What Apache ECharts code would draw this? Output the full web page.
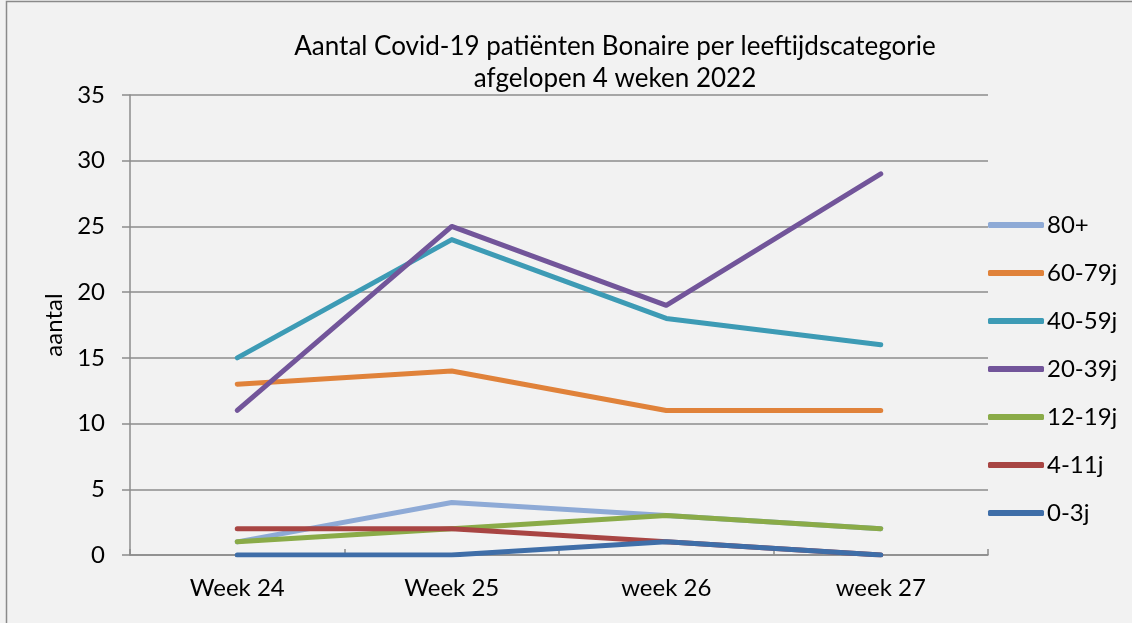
<!DOCTYPE html>
<html>
<head>
<meta charset="utf-8">
<script src="https://cdn.jsdelivr.net/npm/echarts@6/dist/echarts.min.js"></script>
<style>
html,body{margin:0;padding:0;background:#f2f2f2;}
#c{width:1132px;height:623px;}
</style>
</head>
<body>
<div id="c"></div>
<script>
const categories = ['Week 24', 'Week 25', 'week 26', 'week 27'];
const seriesNames = ['80+', '60-79j', '40-59j', '20-39j', '12-19j', '4-11j', '0-3j'];
const s80plus = [1, 4, 3, 2];
const s60_79 = [13, 14, 11, 11];
const s40_59 = [15, 24, 18, 16];
const s20_39 = [11, 25, 19, 29];
const s12_19 = [1, 2, 3, 2];
const s4_11 = [2, 2, 1, 0];
const s0_3 = [0, 0, 1, 0];
const yTicks = [0, 5, 10, 15, 20, 25, 30, 35];
const colors = ['#8eaad6', '#e0823a', '#3d9bb5', '#72559a', '#8aab48', '#a84543', '#3f6ea8'];

const values = [s80plus, s60_79, s40_59, s20_39, s12_19, s4_11, s0_3];
const font = "Lato, 'Open Sans', 'Liberation Sans', sans-serif";

const chart = echarts.init(document.getElementById('c'), null, {renderer: 'canvas'});
chart.setOption({
  backgroundColor: '#f2f2f2',
  animation: false,
  color: colors,
  title: {
    text: 'Aantal Covid-19 patiënten Bonaire per leeftijdscategorie\nafgelopen 4 weken 2022',
    left: 610,
    top: 26,
    textAlign: 'center',
    textStyle: {fontFamily: font, fontSize: 26, fontWeight: 'normal', color: '#000', lineHeight: 32}
  },
  graphic: [{
    type: 'rect',
    shape: {x: 6.5, y: 1.5, width: 1140, height: 640},
    style: {fill: 'none', stroke: '#8a8a8a', lineWidth: 1.5},
    silent: true
  }],
  legend: {
    orient: 'vertical',
    left: 983,
    top: 207,
    icon: 'roundRect',
    itemWidth: 56,
    itemHeight: 6,
    itemGap: 22,
    textStyle: {fontFamily: font, fontSize: 24, color: '#000', lineHeight: 26, padding: [0, 0, 0, -2]},
    data: seriesNames
  },
  grid: {left: 130, right: 144, top: 95, bottom: 68},
  xAxis: {
    type: 'category',
    data: categories,
    boundaryGap: true,
    axisLine: {lineStyle: {color: '#8c8c8c', width: 1.5}},
    axisTick: {show: true, inside: true, length: 6, lineStyle: {color: '#8c8c8c', width: 1.5}},
    axisLabel: {fontFamily: font, fontSize: 24, color: '#000', margin: 21}
  },
  yAxis: {
    type: 'value',
    min: 0, max: 35, interval: 5,
    name: 'aantal',
    nameLocation: 'middle',
    nameGap: 62,
    nameTextStyle: {fontFamily: font, fontSize: 24, color: '#000'},
    axisLine: {show: true, lineStyle: {color: '#8c8c8c', width: 1.5}},
    axisTick: {show: true, length: 8, lineStyle: {color: '#8c8c8c', width: 1.5}},
    axisLabel: {fontFamily: font, fontSize: 24, color: '#000', margin: 25,
      formatter: v => yTicks.includes(v) ? String(v) : ''},
    splitLine: {lineStyle: {color: '#8c8c8c', width: 1.5}}
  },
  series: seriesNames.map((n, i) => ({
    name: n,
    type: 'line',
    data: values[i],
    symbol: 'none',
    lineStyle: {width: 5, color: colors[i], cap: 'round', join: 'round'},
    itemStyle: {color: colors[i]}
  }))
});
</script>
</body>
</html>
